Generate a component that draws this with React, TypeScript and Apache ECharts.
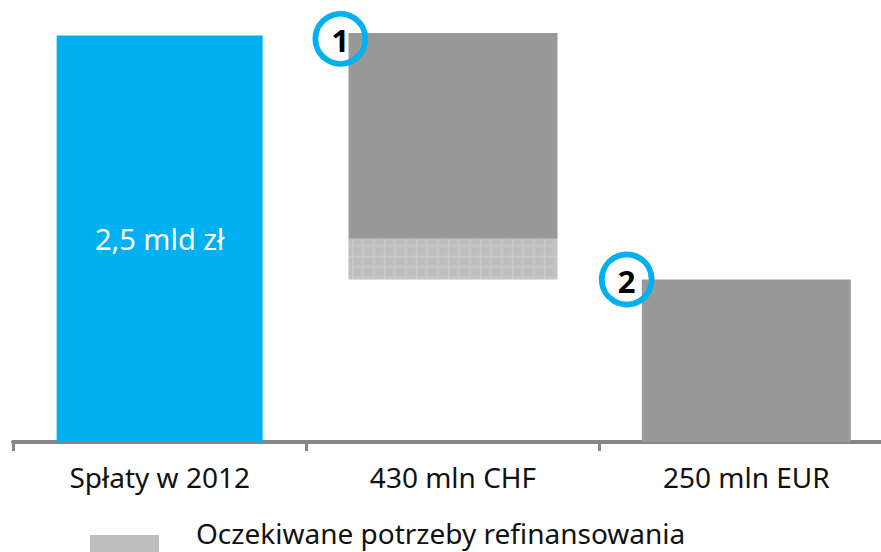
import React, { useEffect, useRef } from "react";
import * as echarts from "echarts";

const categories = ["Spłaty w 2012", "430 mln CHF", "250 mln EUR"];
const repayments = [2.5, 0, 0];
const offsetValues = [0, 1.0, 0];
const expectedValues = [0, 0.25, 0];
const solidValues = [0, 1.265, 1.0];
const repaymentLabel = "2,5 mld zł";
const legendLabel = "Oczekiwane potrzeby refinansowania";

const FONT = "'Noto Sans'";
const BLUE = "#00B0F0";
const GREY = "#999999";
const AXIS = "#868686";

function makePattern() {
  const c = document.createElement("canvas");
  c.width = 32;
  c.height = 32;
  const g = c.getContext("2d")!;
  g.fillStyle = "#c0c0c0";
  g.fillRect(0, 0, 32, 32);
  const t = 32 / 3;
  for (let i = 0; i < 3; i++) {
    for (let j = 0; j < 3; j++) {
      const x = i * t;
      const y = j * t;
      g.fillStyle = "#cacaca";
      g.fillRect(x, y, t, 1);
      g.fillRect(x, y, 1, t);
      g.fillStyle = "#b9b9b9";
      g.fillRect(x + 3, y + 3, 4.5, 1);
      g.fillRect(x + 3, y + 7, 4.5, 1);
      g.fillRect(x + 3, y + 3, 1, 4.5);
      g.fillRect(x + 7, y + 3, 1, 4.5);
    }
  }
  return c;
}

function circle(cx: number, cy: number, text: string) {
  return [
    {
      type: "circle",
      z: 20,
      shape: { cx, cy, r: 25 },
      style: { fill: "none", stroke: BLUE, lineWidth: 5.8 },
    },
    {
      type: "text",
      z: 21,
      x: cx,
      y: cy + 1,
      style: {
        text,
        fill: "#000",
        font: `bold 31px ${FONT}`,
        align: "center",
        verticalAlign: "middle",
      },
    },
  ];
}

export default function App() {
  const ref = useRef<HTMLDivElement>(null);
  useEffect(() => {
    const chart = echarts.init(ref.current!, undefined, { renderer: "svg" });
    const pattern = { image: makePattern(), repeat: "repeat" };
    const catAxis = {
      type: "category",
      data: categories,
      boundaryGap: true,
    };
    chart.setOption({
      animation: false,
      backgroundColor: "#fff",
      grid: {
        left: 13,
        width: 880,
        top: 3,
        height: 439,
        containLabel: false,
        outerBoundsMode: "none",
      },
      xAxis: [
        {
          ...catAxis,
          axisLine: { show: true, lineStyle: { color: AXIS, width: 4 } },
          axisTick: { show: true, length: 9, lineStyle: { color: AXIS, width: 3 } },
          axisLabel: {
            color: "#111",
            fontFamily: FONT,
            fontSize: 28,
            margin: 21,
            interval: 0,
          },
        },
        { ...catAxis, show: false },
      ],
      yAxis: { type: "value", min: 0, max: 2.7, show: false },
      series: [
        {
          name: "Spłaty",
          type: "bar",
          xAxisIndex: 1,
          barWidth: 206,
          data: repayments,
          itemStyle: { color: BLUE },
          label: {
            show: true,
            position: "inside",
            color: "#fff",
            fontFamily: FONT,
            fontSize: 29,
            formatter: (p: any) => (p.value > 0 ? repaymentLabel : ""),
          },
        },
        {
          name: "offset",
          type: "bar",
          stack: "a",
          barWidth: 209,
          data: offsetValues,
          itemStyle: { color: "transparent" },
        },
        {
          name: legendLabel,
          type: "bar",
          stack: "a",
          data: expectedValues,
          itemStyle: { color: pattern },
        },
        {
          name: "Finansowanie",
          type: "bar",
          stack: "a",
          data: solidValues,
          itemStyle: { color: GREY },
        },
      ],
      graphic: [
        ...circle(340.4, 38.8, "1"),
        ...circle(626.7, 279.5, "2"),
        {
          type: "rect",
          shape: { x: 90, y: 535, width: 69, height: 17 },
          style: { fill: "#BEBEBE" },
        },
        {
          type: "text",
          x: 196,
          y: 532.8,
          style: {
            text: legendLabel,
            fill: "#111",
            font: `28px ${FONT}`,
            align: "left",
            verticalAlign: "middle",
          },
        },
      ],
    });
    return () => chart.dispose();
  }, []);
  return (
    <div
      ref={ref}
      style={{ position: "absolute", left: 0, top: 0, width: 881, height: 552 }}
    />
  );
}
